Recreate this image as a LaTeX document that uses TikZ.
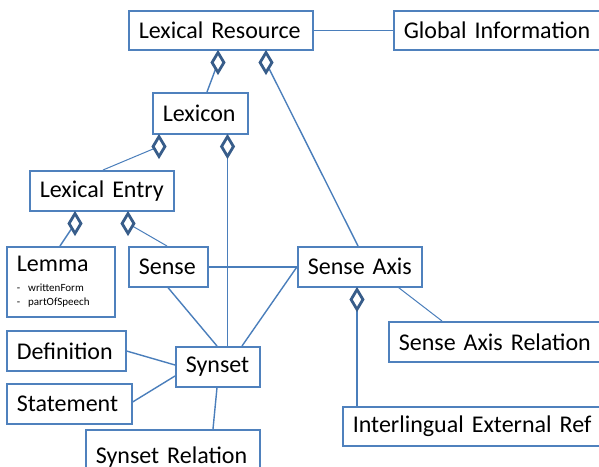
\documentclass[tikz,border=0pt]{standalone}
\usepackage{fontspec}
\setmainfont{Carlito}
\usetikzlibrary{shapes.geometric}
\definecolor{boxblue}{HTML}{4F81BD}
\definecolor{lineblue}{HTML}{4A7EBB}
\definecolor{diamblue}{HTML}{385D8A}
\pgfdeclarelayer{bg}
\pgfsetlayers{bg,main}
\tikzset{
  box/.style={draw=boxblue, line width=1.6pt, fill=white, rectangle, anchor=north west,
    inner xsep=10pt, inner ysep=0pt, align=left, font=\fontsize{24}{28}\selectfont},
  conn/.style={draw=lineblue, line width=1.4pt},
  thinconn/.style={draw=lineblue, line width=1pt},
  agg/.style={diamond, draw=diamblue, line width=2.8pt, fill=white, inner sep=0pt,
    minimum width=13pt, minimum height=21pt, anchor=north},
}
\newcommand{\bx}[5]{\node[box, minimum width=#3pt, minimum height=#4pt, text width=#3pt-20pt] (#1) at (#2) {\mbox{#5}};}
\newcommand{\attrfont}{\fontsize{11}{13}\selectfont}
\begin{document}
\begin{tikzpicture}[x=1pt,y=-1pt]
\useasboundingbox (0,0) rectangle (599,466);
% boxes
\bx{lr}{128,10}{184}{39}{Lexical Resource}
\bx{gi}{393,10}{215}{39}{Global Information}
\bx{lexicon}{152,92}{95}{41}{Lexicon}
\bx{le}{29,170}{144}{40}{Lexical Entry}
\node[box, minimum width=108pt, minimum height=70pt, text width=88pt] (lemma) at (6,246)
  {\vbox{\offinterlineskip
    \hbox{Lemma}
    \hbox{\vrule height19pt depth0pt width0pt\attrfont - writtenForm}
    \hbox{\vrule height14pt depth0pt width0pt\attrfont - partOfSpeech}}};
\bx{sense}{128,246}{79}{40}{Sense}
\bx{sa}{297,246}{124}{40}{Sense Axis}
\bx{def}{6,330}{119}{40}{Definition}
\bx{stmt}{6,383}{125}{40}{Statement}
\bx{syn}{175,346}{84}{40}{Synset}
\bx{sr}{85,429}{174}{60}{\raisebox{10pt}{Synset Relation}}
\bx{sar}{388,321}{220}{40}{Sense Axis Relation}
\bx{ier}{342,406}{266}{39}{Interlingual External Ref}
% diamond anchors
\coordinate (p1) at ([xshift=90pt]lr.south west);
\coordinate (p2) at ([xshift=138pt]lr.south west);
\coordinate (p3) at ([xshift=7pt]lexicon.south west);
\coordinate (p4) at ([xshift=75.5pt]lexicon.south west);
\coordinate (p5) at ([xshift=46pt]le.south west);
\coordinate (p6) at ([xshift=99pt]le.south west);
\coordinate (p7) at ([xshift=60pt]sa.south west);
\node[agg] (d1) at (p1) {};
\node[agg] (d2) at (p2) {};
\node[agg] (d3) at (p3) {};
\node[agg] (d4) at (p4) {};
\node[agg] (d5) at (p5) {};
\node[agg] (d6) at (p6) {};
\node[agg] (d7) at (p7) {};
% connectors (behind boxes and diamonds)
\begin{pgfonlayer}{bg}
\draw[conn] (lr.east) -- (gi.west);
\draw[conn] (d1.center) -- ([xshift=55pt]lexicon.north west);
\draw[conn] (d2.center) -- ([xshift=61pt]sa.north west);
\draw[thinconn] (d3.center) -- ([xshift=74pt]le.north west);
\draw[conn] (d4.center) -- ([xshift=52.5pt]syn.north west);
\draw[conn] (d5.center) -- ([xshift=54pt]lemma.north west);
\draw[thinconn] (d6.center) -- ([xshift=39pt]sense.north west);
\draw[conn] (sense.east) -- (sa.west);
\draw[conn] ([xshift=40pt]sense.south west) -- ([xshift=42pt]syn.north west);
\draw[conn] (sa.west) -- ([xshift=67pt]syn.north west);
\draw[conn] ([yshift=-21pt]def.north east) -- ([yshift=-19pt]syn.north west);
\draw[conn] ([yshift=-19pt]stmt.north east) -- ([yshift=-30pt]syn.north west);
\draw[conn] ([xshift=42pt]syn.south west) -- ([xshift=128pt]sr.north west);
\draw[conn] (d7.center) -- ([xshift=15pt]ier.north west);
\draw[thinconn] ([xshift=99pt,yshift=2pt]sa.south west) -- ([xshift=54pt]sar.north west);
\end{pgfonlayer}
\end{tikzpicture}
\end{document}
